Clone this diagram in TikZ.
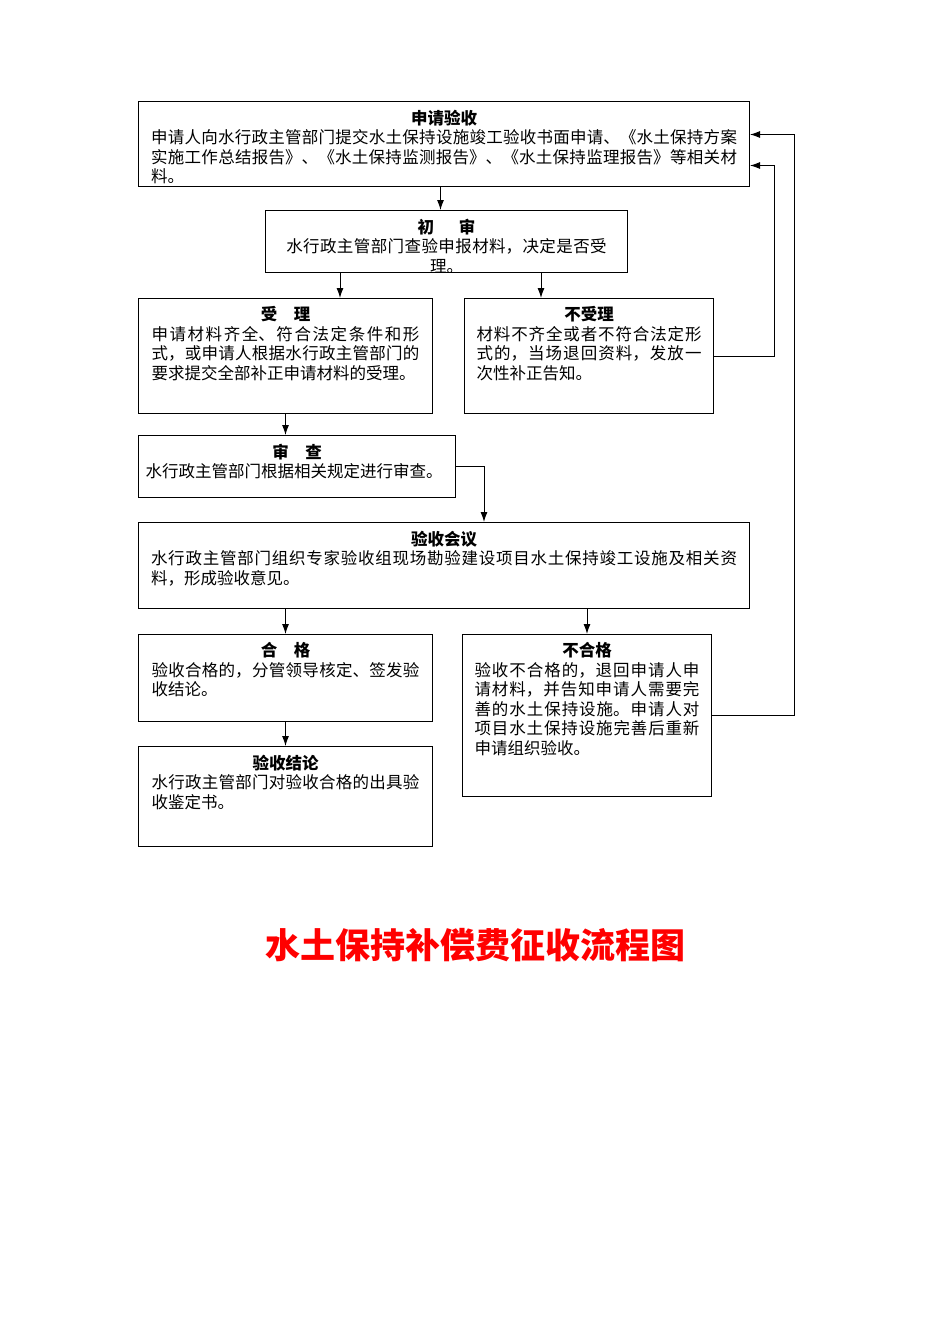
\documentclass[tikz,border=0pt]{standalone}
\usepackage{fontspec}
\setmainfont{Noto Sans CJK SC}
\XeTeXlinebreaklocale "zh"
\XeTeXlinebreakskip = 0pt plus 2pt
\usetikzlibrary{arrows.meta}

\begin{document}
\begin{tikzpicture}[x=1pt,y=-1pt]

  \tikzstyle{stepbox} = [rectangle, draw=black, line width=1pt, anchor=north west, inner sep=0pt]
  \tikzstyle{steptext} = [anchor=north, inner xsep=0pt, inner ysep=8.5pt, align=justify, font=\fontsize{16.5}{19.5}\selectfont]
  \tikzstyle{arrow} = [line width=1pt, -{Latex[length=10pt,width=7pt]}]

  \useasboundingbox (0,0) rectangle (950,1344);

  \node (apply) [stepbox, minimum width=611, minimum height=85] at (138,101) {};
  \node (applytext) [steptext, text width=586pt] at (apply.north) {\makebox[\linewidth]{\bfseries 申请验收}\par 申请人向水行政主管部门提交水土保持设施竣工验收书面申请、《水土保持方案\linebreak 实施工作总结报告》、《水土保持监测报告》、《水土保持监理报告》等相关材\linebreak 料。};

  \node (first) [stepbox, minimum width=362, minimum height=62] at (265,210) {};
  \node (firsttext) [steptext, text width=334pt, align=center] at (first.north) {{\bfseries 初　审}\\水行政主管部门查验申报材料，决定是否受\\理。};
  \draw [arrow] ([xshift=-6]first.north |- apply.south) -- ([xshift=-6]first.north);

  \node (accept) [stepbox, minimum width=294, minimum height=115] at (138,298) {};
  \node (accepttext) [steptext, text width=268pt] at (accept.north) {\makebox[\linewidth]{\bfseries 受　理}\par 申请材料齐全、符合法定条件和形\linebreak 式，或申请人根据水行政主管部门的\linebreak 要求提交全部补正申请材料的受理。};

  \node (reject) [stepbox, minimum width=249, minimum height=115] at (464,298) {};
  \node (rejecttext) [steptext, text width=225pt] at (reject.north) {\makebox[\linewidth]{\bfseries 不受理}\par 材料不齐全或者不符合法定形\linebreak 式的，当场退回资料，发放一\linebreak 次性补正告知。};

  \draw [arrow] ([xshift=75]first.south west) -- ([xshift=75]first.south west |- accept.north);
  \draw [arrow] ([xshift=-87]first.south east) -- ([xshift=-87]first.south east |- reject.north);
  \draw [arrow] (reject.east) -- ++(60,0) |- ([yshift=-21.5]apply.east);

  \node (review) [stepbox, minimum width=317, minimum height=62] at (138,435) {};
  \node (reviewtext) [steptext, text width=303pt, align=left] at (review.north) {\makebox[\linewidth]{\bfseries 审　查}\\水行政主管部门根据相关规定进行审查。};
  \draw [arrow] (accept.south) -- (accept.south |- review.north);

  \node (meeting) [stepbox, minimum width=611, minimum height=86] at (138,522) {};
  \node (meetingtext) [steptext, text width=586pt] at (meeting.north) {\makebox[\linewidth]{\bfseries 验收会议}\par 水行政主管部门组织专家验收组现场勘验建设项目水土保持竣工设施及相关资\linebreak 料，形成验收意见。};
  \draw [arrow] (review.east) -- ++(28,0) -- ([xshift=28]review.east |- meeting.north);

  \node (pass) [stepbox, minimum width=294, minimum height=87] at (138,634) {};
  \node (passtext) [steptext, text width=268pt] at (pass.north) {\makebox[\linewidth]{\bfseries 合　格}\par 验收合格的，分管领导核定、签发验\linebreak 收结论。};

  \node (fail) [stepbox, minimum width=249, minimum height=162] at (462,634) {};
  \node (failtext) [steptext, text width=225pt] at (fail.north) {\makebox[\linewidth]{\bfseries 不合格}\par 验收不合格的，退回申请人申\linebreak 请材料，并告知申请人需要完\linebreak 善的水土保持设施。申请人对\linebreak 项目水土保持设施完善后重新\linebreak 申请组织验收。};

  \draw [arrow] (pass.north |- meeting.south) -- (pass.north);
  \draw [arrow] (fail.north |- meeting.south) -- (fail.north);
  \draw [arrow] (fail.east) -- ++(82,0) |- ([yshift=9.5]apply.east);

  \node (result) [stepbox, minimum width=294, minimum height=100] at (138,746) {};
  \node (resulttext) [steptext, text width=268pt] at (result.north) {\makebox[\linewidth]{\bfseries 验收结论}\par 水行政主管部门对验收合格的出具验\linebreak 收鉴定书。};
  \draw [arrow] (pass.south) -- (result.north);

  \node (title) [text=red, font=\fontsize{35}{40}\selectfont\bfseries] at (475,945) {水土保持补偿费征收流程图};

\end{tikzpicture}
\end{document}
